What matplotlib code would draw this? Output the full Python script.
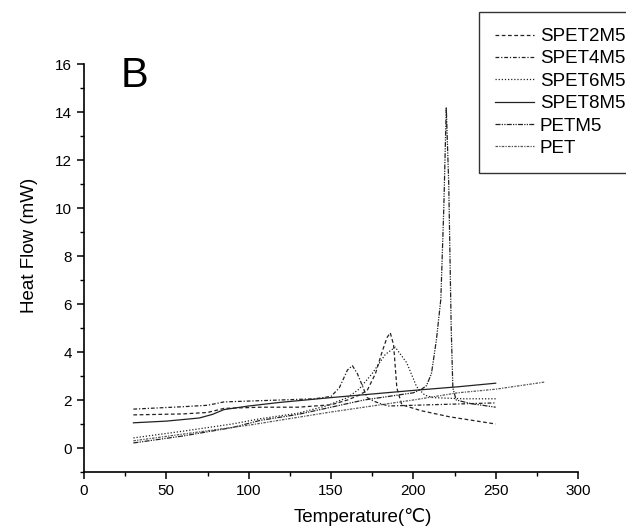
import matplotlib
matplotlib.use("Agg")
import matplotlib.pyplot as plt
from matplotlib.ticker import MultipleLocator

plt.rcParams['font.family'] = ['Liberation Sans', 'DejaVu Sans']

labels = ["SPET2M5", "SPET4M5", "SPET6M5", "SPET8M5", "PETM5", "PET"]

t_spet2 = [30, 60, 75, 85, 107, 130, 150, 160, 167, 172, 177, 181, 184, 186, 188, 190, 193, 205, 222, 250]
h_spet2 = [1.38, 1.42, 1.48, 1.65, 1.70, 1.70, 1.80, 2.00, 2.20, 2.40, 3.10, 4.00, 4.60, 4.80, 4.30, 2.50, 1.80, 1.55, 1.30, 1.00]

t_spet4 = [30, 60, 75, 85, 119, 140, 150, 155, 158, 160, 163, 166, 169, 172, 176, 180, 185, 200, 250]
h_spet4 = [1.62, 1.72, 1.78, 1.92, 2.00, 2.05, 2.15, 2.50, 2.95, 3.25, 3.43, 3.10, 2.60, 2.10, 1.95, 1.85, 1.75, 1.78, 1.88]

t_spet6 = [30, 60, 90, 107, 130, 147, 160, 167, 175, 183, 189, 196, 202, 207, 212, 230, 250]
h_spet6 = [0.42, 0.70, 1.00, 1.22, 1.45, 1.75, 2.10, 2.45, 3.10, 3.90, 4.20, 3.55, 2.55, 2.20, 2.10, 2.05, 2.05]

t_spet8 = [30, 50, 70, 78, 85, 100, 119, 150, 200, 227, 250]
h_spet8 = [1.05, 1.12, 1.25, 1.40, 1.60, 1.75, 1.90, 2.10, 2.40, 2.55, 2.70]

t_petm5 = [30, 60, 90, 107, 130, 150, 170, 190, 200, 205, 208, 211, 214, 216.7, 218.5, 220, 221.5, 223, 224, 226, 235, 250]
h_petm5 = [0.21, 0.50, 0.85, 1.15, 1.40, 1.70, 2.00, 2.20, 2.30, 2.45, 2.60, 3.10, 4.50, 6.20, 10.0, 14.2, 11.0, 5.00, 2.50, 2.00, 1.85, 1.70]

t_pet = [30, 100, 150, 200, 227, 250, 280]
h_pet = [0.30, 0.95, 1.50, 2.00, 2.30, 2.45, 2.75]

fig = plt.figure(figsize=(6.26, 5.27), dpi=100)
ax = fig.add_axes([84/626, 55/527, 494/626, 408/527])

lw = 0.9
c = '#222222'
ax.plot(t_spet2, h_spet2, color=c, lw=lw, linestyle=(0, (3, 2)), label=labels[0])
ax.plot(t_spet4, h_spet4, color=c, lw=lw, linestyle=(0, (3, 1.5, 1, 1.5)), label=labels[1])
ax.plot(t_spet6, h_spet6, color=c, lw=lw, linestyle=(0, (1, 1.5)), label=labels[2])
ax.plot(t_spet8, h_spet8, color=c, lw=lw, linestyle='-', label=labels[3])
ax.plot(t_petm5, h_petm5, color=c, lw=lw, linestyle=(0, (4, 1, 1, 1, 1, 1)), label=labels[4])
ax.plot(t_pet, h_pet, color='#555555', lw=lw, linestyle=(0, (2, 1, 1, 1)), label=labels[5])

ax.set_xlim(0, 300)
ax.set_ylim(-1, 16)
ax.xaxis.set_major_locator(MultipleLocator(50))
ax.xaxis.set_minor_locator(MultipleLocator(25))
ax.yaxis.set_minor_locator(MultipleLocator(1))
ax.set_yticks([0, 2, 4, 6, 8, 10, 12, 14, 16])
for s in ['top', 'right']:
    ax.spines[s].set_visible(False)
for s in ['left', 'bottom']:
    ax.spines[s].set_linewidth(1.2)
ax.tick_params(which='major', direction='out', length=5, width=1.1, labelsize=11)
ax.tick_params(which='minor', direction='out', length=3, width=1.0)
ax.set_xlabel("Temperature(℃)", fontsize=13.5, va='center')
ax.set_ylabel("Heat Flow (mW)", fontsize=13.5, va='center')
ax.xaxis.set_label_coords((363 - 84) / 494, (472 - 517) / 408)
ax.yaxis.set_label_coords((30 - 84) / 494, (472 - 245) / 408)

ax.text(22, 15.5, "B", fontsize=30, va='center', ha='left')

leg = fig.legend(loc='upper left', bbox_to_anchor=(479/626, 1 - 12/527), fontsize=13.5,
                 frameon=True, fancybox=False, edgecolor='black', handlelength=2.1,
                 handletextpad=0.3, borderpad=0.85, labelspacing=0.28, borderaxespad=0)
leg.get_frame().set_linewidth(1.0)

fig.savefig("out.png", dpi=100)
